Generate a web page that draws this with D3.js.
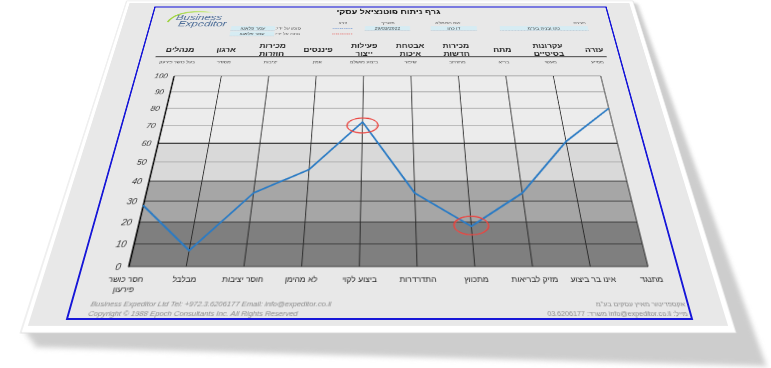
<!DOCTYPE html>
<html lang="he">
<head>
<meta charset="UTF-8">
<title>גרף ניתוח פוטנציאל עסקי</title>
<script src="https://d3js.org/d3.v7.min.js"></script>
<style>
  html, body { margin: 0; width: 771px; height: 368px; overflow: hidden; background: #fff; }
  #sheet { position: absolute; left: 0; top: 0; transform-origin: 0 0; }
  text { font-family: 'Liberation Sans', Arial, 'DejaVu Sans', sans-serif; }
</style>
</head>
<body>
<div id="sheet"></div>
<script>
// ---- data ----
const areas = ["מנהלים", "ארגון", "מכירות חוזרות", "פיננסים", "פעילות ייצור", "אבטחת איכות", "מכירות חדשות", "מתח", "עקרונות בסיסיים", "עזרה"];
const strengths = ["בעל כושר פירעון", "מסודר", "יציבות", "אמין", "ביצוע מושלם", "שיפור", "מתרחב", "בריא", "מעשי", "מסייע"];
const weaknesses = ["חסר כושר פירעון", "מבלבל", "חוסר יציבות", "לא מהימן", "ביצוע לקוי", "התדרדרות", "מתכווץ", "מזיק לבריאות", "אינו בר ביצוע", "מתנגד"];
const scores = [28, 7, 34, 46, 72, 34, 18, 34, 61, 80];
const yTicks = [0, 10, 20, 30, 40, 50, 60, 70, 80, 90, 100];
const bandEdges = [0, 20, 40, 60, 100];
const circled = [4, 6];

const titleText = "גרף ניתוח פוטנציאל עסקי";
const markedBy = "עמר פלאטו";
const analysedBy = "עמר פלאטו";
const reportDate = "29/03/2022";
const filledBy = "דן כהן";
const company = "כהן ובניה בע\"מ";
const footerLeft = ["Business Expeditor Ltd Tel: +972.3.6206177 Email: info@expeditor.co.il",
                    "Copyright © 1988 Epoch Consultants Inc. All Rights Reserved"];
const footerRight = ["אקספדיטור מאיץ עסקים בע\"מ", "מייל: info@expeditor.co.il משרד: 03.6206177"];

// ---- flat sheet layout (the frame is FW x FH, later tilted in perspective) ----
const FW = 625, FH = 440, OX = 50, OY = 20;
const bandFills = ["#7f7f7f", "#a6a6a6", "#d9d9d9", "#ececec"];
const ringShift = [5, -1];

const svg = d3.select("#sheet").append("svg")
    .attr("width", 760).attr("height", 520);

const defs = svg.append("defs");
defs.append("filter").attr("id", "soft")
    .attr("x", "-10%").attr("y", "-10%").attr("width", "120%").attr("height", "120%")
  .append("feGaussianBlur").attr("stdDeviation", 2.5);
const sw = defs.append("linearGradient").attr("id", "swoosh");
sw.append("stop").attr("offset", "0%").attr("stop-color", "#9bd13a");
sw.append("stop").attr("offset", "70%").attr("stop-color", "#c9e88a");
sw.append("stop").attr("offset", "100%").attr("stop-color", "#ffffff").attr("stop-opacity", 0);

const g = svg.append("g").attr("transform", `translate(${OX},${OY})`);

// shadow + page
g.append("polygon")
    .attr("points", [[-38, 453], [664, -9], [670, -6], [684, 486], [-22, 468]].join(" "))
    .attr("fill", "#cdcdcd").attr("filter", "url(#soft)");
g.append("rect").attr("x", -42).attr("y", -12).attr("width", 707).attr("height", 466)
    .attr("fill", "#fff").attr("stroke", "#d8d8d8").attr("stroke-width", 0.8);
g.append("rect").attr("x", -37).attr("y", -8).attr("width", 696).attr("height", 455)
    .attr("fill", "#e8e8e8");

// blue frame
g.append("rect").attr("width", FW).attr("height", FH)
    .attr("fill", "none").attr("stroke", "#1616d8").attr("stroke-width", 2);

// title
g.append("text").attr("x", 323.5).attr("y", 10).attr("dy", "0.35em")
    .attr("text-anchor", "middle").attr("direction", "rtl")
    .attr("font-size", 12.5).attr("font-weight", "bold").attr("fill", "#111")
    .text(titleText);

// logo
g.append("path").attr("d", "M23,29 Q30,9 64,9 Q80,9 92,15")
    .attr("fill", "none").attr("stroke", "url(#swoosh)").attr("stroke-width", 2.6);
g.append("text").attr("x", 33).attr("y", 25)
    .attr("font-family", "'Liberation Serif', serif").attr("font-style", "italic")
    .attr("font-size", 15.5).attr("fill", "#4a6b96").text("Business");
g.append("text").attr("x", 38).attr("y", 37)
    .attr("font-family", "'Liberation Serif', serif").attr("font-style", "italic")
    .attr("font-size", 15.5).attr("fill", "#4a6b96").text("Expeditor");

// header fields
function fieldBox(x0, x1, y0, y1, txt) {
  g.append("rect").attr("x", x0).attr("y", y0).attr("width", x1 - x0).attr("height", y1 - y0)
      .attr("fill", "#d6ecf3");
  g.append("line").attr("x1", x0).attr("x2", x1).attr("y1", y1).attr("y2", y1)
      .attr("stroke", "#9ab").attr("stroke-width", 0.6).attr("stroke-dasharray", "1,1");
  g.append("text").attr("x", (x0 + x1) / 2).attr("y", (y0 + y1) / 2).attr("dy", "0.35em")
      .attr("text-anchor", "middle").attr("direction", "rtl")
      .attr("font-size", 7).attr("fill", "#333").text(txt);
}
function smallLabel(x, y, txt) {
  g.append("text").attr("x", x).attr("y", y).attr("dy", "0.35em")
      .attr("text-anchor", "middle").attr("direction", "rtl")
      .attr("font-size", 7).attr("fill", "#555").text(txt);
}
fieldBox(110.6, 170, 36.3, 44.6, markedBy);
fieldBox(110.6, 170, 46.5, 54.7, analysedBy);
smallLabel(188, 40.5, "סומן על ידי:");
smallLabel(188, 50.6, "נותח על ידי:");
smallLabel(261.5, 30.1, "צבע");
g.append("line").attr("x1", 248).attr("x2", 275).attr("y1", 40.6).attr("y2", 40.6)
    .attr("stroke", "#4a7fd0").attr("stroke-width", 1).attr("stroke-dasharray", "1.5,1");
g.append("line").attr("x1", 248).attr("x2", 275).attr("y1", 51).attr("y2", 51)
    .attr("stroke", "#e53935").attr("stroke-width", 1).attr("stroke-dasharray", "1.5,1");
smallLabel(322.7, 30.1, "תאריך");
fieldBox(291.6, 352.3, 36.3, 44.6, reportDate);
smallLabel(404, 30.1, "שם הממלא");
fieldBox(380.6, 442.8, 36.3, 44.6, filledBy);
smallLabel(583, 30.1, "חברה");
fieldBox(473.8, 592.7, 36.3, 44.6, company);

// ---- chart ----
const x = d3.scalePoint().domain(d3.range(areas.length)).range([49, 594]);
const y = d3.scaleLinear().domain([0, 100]).range([384, 124]);

// wrap helper: split words into lines no wider than maxW
function wrap(sel, maxW, lh) {
  sel.each(function () {
    const t = d3.select(this);
    const words = t.text().split(" ");
    const x0 = t.attr("x") || 0;
    t.text(null);
    let line = [], ts = t.append("tspan").attr("x", x0).attr("dy", 0), n = 0;
    for (const w of words) {
      line.push(w);
      ts.text(line.join(" "));
      if (ts.node().getComputedTextLength() > maxW && line.length > 1) {
        line.pop();
        ts.text(line.join(" "));
        line = [w];
        n++;
        ts = t.append("tspan").attr("x", x0).attr("dy", lh).text(w);
      }
    }
    t.attr("data-lines", n + 1);
  });
}

// area headers
const heads = g.append("g").selectAll("text").data(areas).join("text")
    .attr("x", (d, i) => x(i)).attr("y", 79.5)
    .attr("text-anchor", "middle").attr("direction", "rtl")
    .attr("font-size", 11).attr("font-weight", "bold").attr("fill", "#222")
    .text(d => d);
wrap(heads, 50, 14);
heads.each(function () {
  const n = +this.getAttribute("data-lines");
  d3.select(this).attr("transform", `translate(0,${-(n - 1) * 7 + 3.5})`);
});

g.append("line").attr("x1", 19).attr("x2", 608).attr("y1", 91.5).attr("y2", 91.5)
    .attr("stroke", "#333").attr("stroke-width", 1.6);

g.append("g").selectAll("text").data(strengths).join("text")
    .attr("x", (d, i) => x(i)).attr("y", 100.5).attr("dy", "0.35em")
    .attr("text-anchor", "middle").attr("direction", "rtl")
    .attr("font-size", 6.8).attr("fill", "#444")
    .text(d => d);

// bands
const plot = g.append("g");
plot.selectAll("rect.band").data(d3.pairs(bandEdges)).join("rect")
    .attr("class", "band")
    .attr("x", x.range()[0]).attr("width", x.range()[1] - x.range()[0])
    .attr("y", d => y(d[1])).attr("height", d => y(d[0]) - y(d[1]))
    .attr("fill", (d, i) => bandFills[i]);

// horizontal grid
plot.selectAll("line.h").data(yTicks).join("line")
    .attr("class", "h")
    .attr("x1", x.range()[0]).attr("x2", x.range()[1])
    .attr("y1", d => y(d)).attr("y2", d => y(d))
    .attr("stroke", d => d === 60 ? "#111" : d > 60 ? "#8e8e8e" : d === 50 ? "#a8a8a8" : "#3a3a3a")
    .attr("stroke-width", d => d === 60 ? 1.6 : 1);

// vertical grid
plot.selectAll("line.v").data(d3.range(areas.length)).join("line")
    .attr("class", "v")
    .attr("x1", d => x(d)).attr("x2", d => x(d))
    .attr("y1", y(0)).attr("y2", y(100))
    .attr("stroke", "#2a2a2a").attr("stroke-width", 1);

// y axis
const yAxis = g.append("g").attr("transform", `translate(${x.range()[0]},0)`)
    .call(d3.axisLeft(y).tickValues(yTicks).tickSize(0).tickPadding(8));
yAxis.select(".domain").attr("stroke", "#000").attr("stroke-width", 1.4);
yAxis.selectAll("text").attr("font-size", 10).attr("font-style", "italic")
    .attr("fill", "#333").attr("font-family", "'Liberation Sans', Arial, sans-serif");

// x axis labels
const xAxis = g.append("g").attr("transform", `translate(0,${y(0)})`)
    .call(d3.axisBottom(x).tickSize(0).tickFormat(i => weaknesses[i]));
xAxis.select(".domain").remove();
const xl = xAxis.selectAll("text")
    .attr("y", 17.5).attr("dy", "0.35em").attr("direction", "rtl")
    .attr("font-size", 8.6).attr("fill", "#222")
    .attr("font-family", "'Liberation Sans', Arial, sans-serif");
wrap(xl, x.step() * 0.9, 10.5);

// score line
g.append("path").datum(scores)
    .attr("d", d3.line().x((d, i) => x(i)).y(d => y(d)))
    .attr("fill", "none").attr("stroke", "#2b7bc4").attr("stroke-width", 2.2)
    .attr("stroke-linejoin", "round");

// hand drawn circles
const rings = g.append("g").selectAll("g").data(circled).join("g")
    .attr("transform", (i, k) => `translate(${x(i)},${y(scores[i]) + ringShift[k]})`);
rings.append("ellipse").attr("rx", 19).attr("ry", 11)
    .attr("fill", "none").attr("stroke", "#e8403a").attr("stroke-width", 1.3);
rings.append("ellipse").attr("rx", 18).attr("ry", 11.6).attr("transform", "rotate(-5)")
    .attr("fill", "none").attr("stroke", "#ef5350").attr("stroke-width", 0.9).attr("opacity", 0.7);

// footer
g.selectAll("text.fl").data(footerLeft).join("text").attr("class", "fl")
    .attr("x", 20).attr("y", (d, i) => 424.6 + i * 10).attr("dy", "0.35em")
    .attr("font-size", 7.7).attr("font-style", "italic").attr("fill", "#8a8a8a")
    .text(d => d);
g.selectAll("text.fr").data(footerRight).join("text").attr("class", "fr")
    .attr("x", 622).attr("y", (d, i) => 424.6 + i * 10).attr("dy", "0.35em")
    .attr("direction", "rtl").attr("text-anchor", "start")
    .attr("font-size", 7.2).attr("fill", "#8a8a8a")
    .text(d => d);

// ---- perspective: map the flat frame corners onto the tilted sheet ----
function solve(A, b) {
  const n = b.length;
  for (let i = 0; i < n; i++) {
    let p = i;
    for (let r = i + 1; r < n; r++) if (Math.abs(A[r][i]) > Math.abs(A[p][i])) p = r;
    [A[i], A[p]] = [A[p], A[i]]; [b[i], b[p]] = [b[p], b[i]];
    for (let r = i + 1; r < n; r++) {
      const f = A[r][i] / A[i][i];
      for (let c = i; c < n; c++) A[r][c] -= f * A[i][c];
      b[r] -= f * b[i];
    }
  }
  const out = new Array(n).fill(0);
  for (let i = n - 1; i >= 0; i--) {
    let s = b[i];
    for (let c = i + 1; c < n; c++) s -= A[i][c] * out[c];
    out[i] = s / A[i][i];
  }
  return out;
}
function quadMatrix(src, dst) {
  const A = [], b = [];
  for (let i = 0; i < 4; i++) {
    const [sx, sy] = src[i], [dx, dy] = dst[i];
    A.push([sx, sy, 1, 0, 0, 0, -dx * sx, -dx * sy]); b.push(dx);
    A.push([0, 0, 0, sx, sy, 1, -dy * sx, -dy * sy]); b.push(dy);
  }
  const h = solve(A, b);
  return `matrix3d(${[h[0], h[3], 0, h[6], h[1], h[4], 0, h[7], 0, 0, 1, 0, h[2], h[5], 0, 1].join(",")})`;
}
const src = [[OX, OY], [OX + FW, OY], [OX, OY + FH], [OX + FW, OY + FH]];
const dst = [[155, 7], [606, 7], [67, 319], [692, 319]];
d3.select("#sheet").style("transform", quadMatrix(src, dst));
</script>
</body>
</html>
